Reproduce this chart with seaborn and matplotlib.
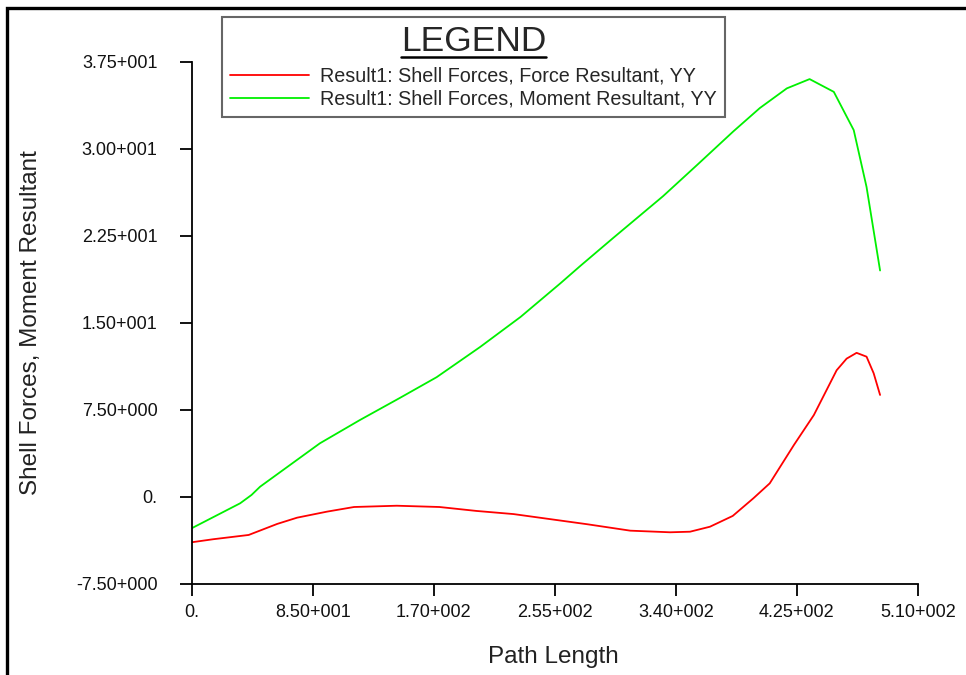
import seaborn as sns
import matplotlib.pyplot as plt
import pandas as pd
from matplotlib.patches import Rectangle
from matplotlib.lines import Line2D

# values
force_path = [0, 15, 40, 60, 74, 95, 114, 144, 174, 200, 226, 278, 308, 336,
              350, 364, 380, 394.5, 406, 423, 437, 453, 460, 467, 474, 479, 483.5]
force_yy = [-3.93, -3.67, -3.30, -2.35, -1.81, -1.29, -0.89, -0.78, -0.89, -1.23,
            -1.50, -2.38, -2.93, -3.07, -3.02, -2.59, -1.66, -0.14, 1.15, 4.46,
            7.04, 10.9, 11.9, 12.4, 12.07, 10.64, 8.77]

moment_path = [0, 34, 42, 48, 90, 118, 146, 172, 202.5, 231, 259, 273, 296, 331,
               355, 380.5, 399, 418, 434, 451, 465, 474, 483.5]
moment_yy = [-2.72, -0.57, 0.15, 0.86, 4.6, 6.6, 8.5, 10.3, 12.9, 15.5, 18.4, 19.9,
             22.3, 25.9, 28.6, 31.5, 33.5, 35.2, 36.0, 34.9, 31.6, 26.7, 19.5]

x_ticks = [0, 85, 170, 255, 340, 425, 510]
x_labels = ['0.', '8.50+001', '1.70+002', '2.55+002', '3.40+002', '4.25+002', '5.10+002']
y_ticks = [-7.5, 0, 7.5, 15, 22.5, 30, 37.5]
y_labels = ['-7.50+000', '0.', '7.50+000', '1.50+001', '2.25+001', '3.00+001', '3.75+001']

force_name = 'Result1: Shell Forces, Force Resultant, YY'
moment_name = 'Result1: Shell Forces, Moment Resultant, YY'

df = pd.concat([
    pd.DataFrame({'path': force_path, 'value': force_yy, 'series': force_name}),
    pd.DataFrame({'path': moment_path, 'value': moment_yy, 'series': moment_name}),
])

sns.set_style('white')
plt.rcParams['font.family'] = ['Liberation Sans', 'DejaVu Sans']

fig = plt.figure(figsize=(9.66, 6.75), dpi=100)
ax = fig.add_axes([0.1985, 0.1353, 0.7516, 0.7733])

sns.lineplot(data=df, x='path', y='value', hue='series', sort=False,
             palette={force_name: '#ff0000', moment_name: '#00f000'},
             linewidth=1.3, ax=ax)

ax.set_xlim(0, 510)
ax.set_ylim(-7.5, 37.5)
ax.set_xticks(x_ticks)
ax.set_xticklabels(x_labels)
ax.set_yticks(y_ticks)
ax.set_yticklabels(y_labels)

for side in ['top', 'right']:
    ax.spines[side].set_visible(False)
for side in ['left', 'bottom']:
    ax.spines[side].set_color('black')
    ax.spines[side].set_linewidth(1.3)

ax.tick_params(axis='both', direction='out', length=8.6, width=1.3, color='black',
               labelsize=13, labelcolor='#111111', bottom=True, left=True)
ax.tick_params(axis='y', pad=16)
ax.tick_params(axis='x', pad=6)

ax.set_xlabel('Path Length', fontsize=17.5, color='#222222')
ax.set_ylabel('Shell Forces, Moment Resultant', fontsize=17.5, color='#222222')
ax.xaxis.set_label_coords(0.498, -0.12)
ax.yaxis.set_label_coords(-0.206, 0.5)

leg = ax.legend(title='LEGEND', loc='upper left',
                bbox_to_anchor=(222 / 966, 1 - 17 / 675), bbox_transform=fig.transFigure,
                borderaxespad=0, fontsize=14.2, title_fontsize=25.5, frameon=True,
                fancybox=False, handlelength=4.0, handletextpad=0.55,
                labelspacing=0.2, borderpad=0.42)
leg.get_frame().set_edgecolor('#404040')
leg.get_frame().set_linewidth(1.5)
for line in leg.get_lines():
    line.set_linewidth(1.3)
# a bit of extra room between the title and the entries
leg._legend_box.sep = 6

# underline under the legend title
fig.canvas.draw()
bb = leg.get_title().get_window_extent()
uy = bb.y0 + 1
fig.lines.append(Line2D([bb.x0 / 966, bb.x1 / 966], [uy / 675, uy / 675],
                        transform=fig.transFigure, color='black', linewidth=1.8))

# outer frame of the original window
fig.patches.append(Rectangle((7 / 966, -0.2), 1.2, 1.2 - 7.5 / 675,
                             transform=fig.transFigure, fill=False,
                             edgecolor='black', linewidth=2.4))

fig.savefig('out.png', dpi=100)
